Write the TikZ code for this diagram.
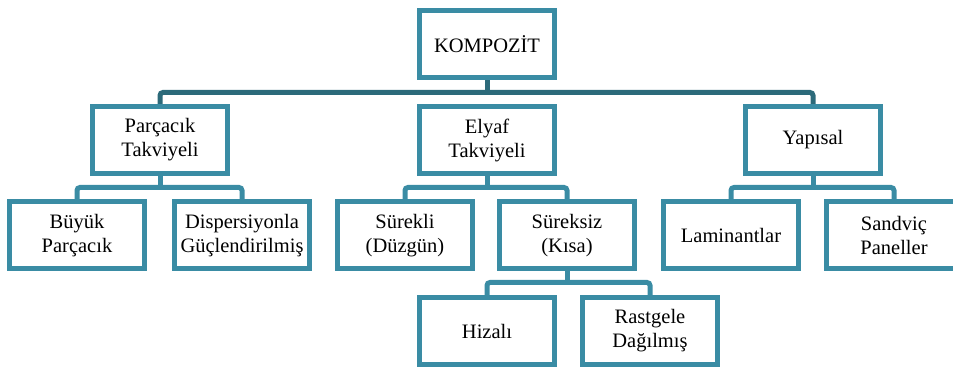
\documentclass[tikz,border=0pt]{standalone}
\usepackage{fontspec}
\setmainfont{LiberationSerif}[Extension=.ttf, UprightFont=*-Regular]
\definecolor{boxteal}{HTML}{3A8CA4}
\definecolor{busteal}{HTML}{2C6A7A}
\tikzset{
  kutu/.style={draw=boxteal, line width=2.5pt, fill=white, minimum width=67.5pt,
    minimum height=33.5pt, align=center, inner sep=1pt, font=\fontsize{10.25}{12}\selectfont},
  bag/.style={draw=boxteal, line width=2.5pt, rounded corners=1.5pt},
  anabag/.style={bag, draw=busteal},
}

\begin{document}
\begin{tikzpicture}[x=0.5pt, y=-0.5pt]
\useasboundingbox (0,0) rectangle (953,368);
\clip (0,0) rectangle (953,368);
% levels of the bus lines
\coordinate (busA) at (0,92.5);
\coordinate (busB) at (0,187.5);
\coordinate (busC) at (0,282.5);
% boxes
\node[kutu] (komp) at (487,44.5) {KOMPOZİT};
\node[kutu] (parc) at (160,140) {Parçacık\\Takviyeli};
\node[kutu] (elyaf) at (487,140) {Elyaf\\Takviyeli};
\node[kutu] (yap) at (813,140) {Yapısal};
\node[kutu] (buyuk) at (77,235.5) {Büyük\\Parçacık};
\node[kutu] (disp) at (242,235.5) {Dispersiyonla\\Güçlendirilmiş};
\node[kutu] (surekli) at (405,235.5) {Sürekli\\(Düzgün)};
\node[kutu] (sureksiz) at (567,235.5) {Süreksiz\\(Kısa)};
\node[kutu] (lamin) at (731,235.5) {Laminantlar};
\node[kutu] (sandvic) at (894,235.5) {Sandviç\\Paneller};
\node[kutu] (hizali) at (487,331) {Hizalı};
\node[kutu] (rast) at (650,331) {Rastgele\\Dağılmış};
% connectors
\draw[anabag] (komp.south) -- (komp.south |- busA);
\draw[anabag] (parc.north) |- (yap.north |- busA) -- (yap.north);
\foreach \p/\a/\b/\bus in {parc/buyuk/disp/busB, elyaf/surekli/sureksiz/busB,
    yap/lamin/sandvic/busB, sureksiz/hizali/rast/busC} {
  \draw[bag] (\p.south) -- (\p.south |- \bus);
  \draw[bag] (\a.north) |- (\b.north |- \bus) -- (\b.north);
}
\end{tikzpicture}
\end{document}
